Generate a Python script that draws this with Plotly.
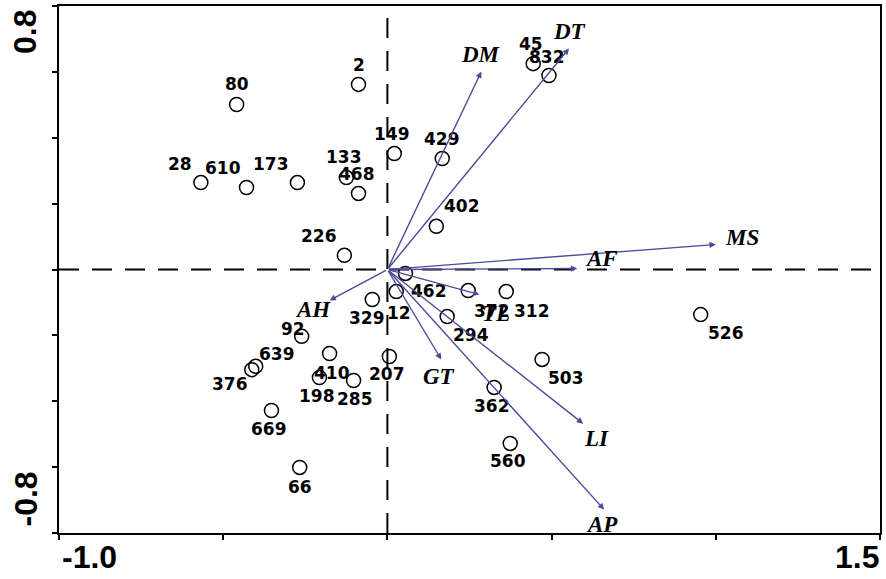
import plotly.graph_objects as go

# ---- data: sample scores ----
sample_ids = ["80", "2", "149", "429", "28", "610", "173", "133", "468", "226",
              "402", "45", "832", "462", "12", "329", "372", "312", "294", "92",
              "207", "410", "198", "285", "639", "376", "669", "66", "526", "503",
              "362", "560"]
sample_x = [-0.459, -0.088, 0.021, 0.167, -0.568, -0.429, -0.274, -0.125, -0.088, -0.131,
            0.149, 0.444, 0.492, 0.055, 0.027, -0.046, 0.246, 0.362, 0.182, -0.261,
            0.006, -0.176, -0.207, -0.103, -0.401, -0.413, -0.353, -0.267, 0.954, 0.471,
            0.325, 0.374]
sample_y = [0.501, 0.562, 0.352, 0.337, 0.264, 0.249, 0.264, 0.279, 0.231, 0.043,
            0.131, 0.625, 0.589, -0.012, -0.067, -0.091, -0.064, -0.067, -0.143, -0.203,
            -0.264, -0.255, -0.328, -0.337, -0.294, -0.304, -0.428, -0.601, -0.137, -0.273,
            -0.358, -0.528]

# ---- data: variable vectors ----
var_names = ["DM", "DT", "MS", "AF", "TL", "AH", "GT", "LI", "AP"]
var_x = [0.286, 0.553, 1.000, 0.578, 0.280, -0.176, 0.164, 0.596, 0.660]
var_y = [0.601, 0.671, 0.076, 0.003, -0.076, -0.094, -0.273, -0.468, -0.729]

# ---- axis tick labels ----
x_tick_labels = ["-1.0", "1.5"]
y_tick_labels = ["0.8", "-0.8"]
x_range = [-1.0, 1.5]
y_range = [-0.8, 0.8]

# ---- styling: label offsets in pixels (dx, dy image-down) ----
sample_label_offsets = [(0, -20), (0, -19), (-2, -20), (0, -20), (-21, -19), (-24, -19),
                        (-26, -19), (-2, -21), (-2, -19), (-25, -19), (26, -20), (-2, -20),
                        (-2, -19), (24, 18), (3, 21), (-5, 19), (24, 20), (26, 19),
                        (24, 18), (-9, -7), (-2, 18), (2, 20), (-2, 18), (1, 18),
                        (21, -12), (-22, 14), (-2, 19), (0, 20), (25, 18), (24, 19),
                        (-2, 19), (-2, 18)]
var_label_offsets = [(0, -17), (0, -17), (26, -7), (24, -10), (17, 19), (-17, 9),
                     (-2, 17), (13, 15), (-2, 15)]

ARROW_COLOR = "#4B4B9B"

fig = go.Figure()

fig.add_trace(go.Scatter(
    x=sample_x, y=sample_y, mode="markers",
    marker=dict(symbol="circle-open", size=14, color="black", line=dict(width=1.5)),
    hoverinfo="text", text=sample_ids, showlegend=False,
))

annotations = []
for name, sx, sy, (dx, dy) in zip(sample_ids, sample_x, sample_y, sample_label_offsets):
    annotations.append(dict(x=sx, y=sy, xref="x", yref="y", text=name, showarrow=False,
                            xshift=dx, yshift=-dy,
                            font=dict(family="DejaVu Sans", size=17, color="black", weight="bold")))

for name, vx, vy, (dx, dy) in zip(var_names, var_x, var_y, var_label_offsets):
    annotations.append(dict(x=vx, y=vy, xref="x", yref="y", ax=0, ay=0,
                            axref="x", ayref="y", text="", showarrow=True,
                            arrowhead=2, arrowsize=0.9, arrowwidth=1.4,
                            arrowcolor=ARROW_COLOR, standoff=0, startstandoff=0))
    annotations.append(dict(x=vx, y=vy, xref="x", yref="y", text="<b><i>%s</i></b>" % name,
                            showarrow=False, xshift=dx, yshift=-dy,
                            font=dict(family="Liberation Serif", size=23, color="black")))

# axis end labels
annotations.append(dict(x=0, y=0, xref="paper", yref="paper", text=x_tick_labels[0],
                        showarrow=False, xanchor="left", yanchor="top", xshift=1, yshift=-4,
                        font=dict(family="Liberation Sans", size=32, color="black", weight="bold")))
annotations.append(dict(x=1, y=0, xref="paper", yref="paper", text=x_tick_labels[1],
                        showarrow=False, xanchor="right", yanchor="top", xshift=1, yshift=-4,
                        font=dict(family="Liberation Sans", size=32, color="black", weight="bold")))
annotations.append(dict(x=0, y=1, xref="paper", yref="paper", text=y_tick_labels[0],
                        showarrow=False, xanchor="right", yanchor="top", textangle=-90,
                        xshift=-14, yshift=-2,
                        font=dict(family="Liberation Sans", size=32, color="black", weight="bold")))
annotations.append(dict(x=0, y=0, xref="paper", yref="paper", text=y_tick_labels[1],
                        showarrow=False, xanchor="right", yanchor="bottom", textangle=-90,
                        xshift=-14, yshift=4,
                        font=dict(family="Liberation Sans", size=32, color="black", weight="bold")))

shapes = [
    dict(type="line", xref="x", yref="paper", x0=0, x1=0, y0=0, y1=1,
         line=dict(color="black", width=2, dash="20px,13px")),
    dict(type="line", xref="paper", yref="y", x0=0, x1=1, y0=0, y1=0,
         line=dict(color="black", width=2, dash="20px,13px")),
]

fig.update_layout(
    width=886, height=579,
    margin=dict(l=59, r=4, t=6, b=46),
    plot_bgcolor="white", paper_bgcolor="white",
    annotations=annotations, shapes=shapes,
    xaxis=dict(range=x_range, dtick=0.5, tick0=-1.0, showgrid=False, zeroline=False,
               showline=True, linecolor="black", linewidth=2, mirror=True,
               ticks="outside", ticklen=5, tickwidth=2, tickcolor="black",
               showticklabels=False),
    yaxis=dict(range=y_range, dtick=0.2, tick0=-0.8, showgrid=False, zeroline=False,
               showline=True, linecolor="black", linewidth=2, mirror=True,
               ticks="outside", ticklen=5, tickwidth=2, tickcolor="black",
               showticklabels=False),
)

fig.write_html("out.html", config={"displayModeBar": False},
               post_script="document.body.style.margin='0';document.body.style.padding='0';")
